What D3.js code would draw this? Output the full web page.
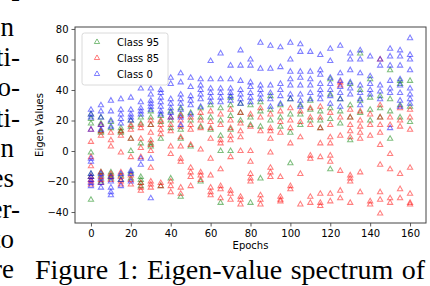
<!DOCTYPE html>
<html>
<head>
<meta charset="utf-8">
<script src="https://cdn.jsdelivr.net/npm/d3@7"></script>
<style>
  body { margin: 0; background: #fff; }
  svg { display: block; }
</style>
</head>
<body>
<svg id="chart" width="430" height="286"></svg>
<script>
var epochs = [0, 5, 10, 15, 20, 25, 30, 35, 40, 45, 50, 55, 60, 65, 70, 75, 80,
              85, 90, 95, 100, 105, 110, 115, 120, 125, 130, 135, 140, 145, 150, 155, 160];

// eigen values per epoch, one list per class
var class95 = [
  [24, 21, 18, -1, -15, -17, -32], [22, 18, 13, 12, -14, -16, -20], [19, 15, -14, -16, -18],
  [15, 13, 12, -16, -19], [20, 16, 8, 0, -14, -18], [22, 18, 5, -17, -19, -21, -23],
  [26, 22, 17, 5, 3], [23, 19, 8, -23], [26, 20, 15, -18], [28, 24, 14, 8, -30],
  [25, 20, 3], [28, 22, 16, -20], [30, 22, 14], [28, 20, 10, 0, -34], [35, 30, 23, 14, 0],
  [31, 25, 20], [30, 22, 17, -34], [32, 26, 16, -18], [36, 27, 20], [30, 22, 16],
  [34, 24, 12, -8], [30, 24, 17], [33, 27, 20], [26, 20, 15], [47, 37, 28, 21, -12],
  [34, 26, 18], [44, 30, 22, 7], [64, 40, 33, 25], [47, 35, 27, 20], [36, 28, 22],
  [53, 34, 26, 8], [46, 44, 30, 22], [46, 29, 19]
];
var class85 = [
  [14, 6, -4, -10, -17, -19, -20, -22], [17, 13, 10, -14, -17, -19, -21], [12, 7, 3, -15, -17, -19],
  [13, 10, -1, -14, -17, -20, -22], [17, 14, 8, -4, -16, -19, -22], [17, 15, 8, 2, -4, -21, -24, -26],
  [20, 17, 12, 7, 4, 0, -11, -20, -22, -24], [20, 17, 14, 11, -21, -23], [22, 17, 13, 3, -2, -20, -23, -27],
  [23, 20, 16, 9, 3, -5, -7, -24, -28], [22, 17, 14, 4, -11, -14, -17, -23], [25, 20, 15, 1, -14, -16, -19],
  [26, 19, 15, 8, -5, -16, -24, -27, -29], [24, 17, 7, 5, -12, -23, -25, -31], [27, 20, 15, 10, 7, -4, -26, -28, -32],
  [25, 18, 13, 9, 0, -30, -32, -35], [24, 16, 0, -7, -15, -18, -20], [28, 22, 13, -29, -32, -35],
  [24, 15, 13, 8, -1, -11, -14, -17], [26, 19, 12, -17, -30, -32, -33], [28, 20, 15, 5, -23, -25],
  [26, 19, 9, -15, -35], [28, 22, 17, -3, -5, -30, -34], [29, 22, 15, 5, -4, -28, -34, -36],
  [25, 17, 9, 5, -3, -7, -28, -33], [45, 43, 22, 10, -13, -26, -31], [27, 22, 17, 13, 9, -16, -18, -20, -34],
  [26, 20, 16, 12, 8, -14, -27], [24, 17, 10, -33, -35], [60, 30, 22, 17, 12, 4, -9, -27, -32, -41],
  [22, 17, -2, -12, -31, -34], [28, 20, 16, -15, -25, -31], [27, 22, 14, -11, -28, -34, -35]
];
var class0 = [
  [27, 24, 22, 14, -5, -7, -15, -17, -19, -21, -23], [30, 26, 22, 17, 14, -15, -18, -21, -24],
  [33, 26, 20, 16, -17, -20, -24, -27, -29], [34, 27, 24, 21, 18, -15, -19, -23],
  [35, 27, 24, 22, 20, -13, -15, -20], [41, 32, 28, 26, 24, -5, -9], [41, 37, 33, 31, 29, 27, -5, -31],
  [40, 38, 35, 32, 29, 26, 24], [48, 44, 34, 31, 28, 25, 22], [51, 45, 37, 34, 31, 27, 22, 17],
  [48, 42, 36, 33, 30, 24], [47, 43, 40, 37, 34, 29], [59, 47, 41, 38, 35, 32], [64, 47, 41, 38, 35, 32],
  [56, 47, 41, 38, 36, 33], [66, 56, 46, 40, 37, 34, 31], [60, 56, 45, 42, 38, 35, 32],
  [71, 54, 43, 40, 37, 34], [69, 54, 43, 38, 34, 29], [68, 55, 44, 40, 36, 31],
  [71, 60, 52, 47, 43, 37, 34], [70, 65, 52, 48, 43, 37, 33, 29], [65, 52, 47, 43, 38, 34],
  [63, 53, 50, 44, 40, 37, 34], [67, 59, 48, 44, 40, 36, 31], [69, 51, 46, 42, 38, 34, 29],
  [64, 60, 53, 45, 41, 37], [66, 60, 51, 43, 38, 34, 30], [62, 49, 44, 40, 37], [60, 56, 43, 39, 34],
  [67, 62, 56, 46, 41, 38, 15], [66, 62, 56, 47, 43, 38, 33, 29], [74, 63, 60, 53, 41, 37, 34, 31]
];

var classNames = ["Class 95", "Class 85", "Class 0"];
var classColors = ["#008000", "#ff0000", "#0000ff"];
var xTicks = [0, 20, 40, 60, 80, 100, 120, 140, 160];
var yTicks = [-40, -20, 0, 20, 40, 60, 80];

var sideText = ["-", "tion", "ti-", "co-", "ti-", "ion", "ces", "ter-", "to", "are"];
var caption = "Figure 1: Eigen-value spectrum of";

var svg = d3.select("#chart");
var font = "DejaVu Sans, sans-serif";

var plotLeft = 75, plotRight = 426, plotTop = 27, plotBottom = 223;

var xScale = d3.scaleLinear().domain([-8, 168]).range([plotLeft, plotRight]);
var yScale = d3.scaleLinear().domain([-47.2, 81.3]).range([plotBottom, plotTop]);

// text column of the page, cut at the left edge
svg.selectAll(".side")
    .data(sideText)
    .enter().append("text")
    .attr("x", function (d) { return d.slice(-1) === "-" ? 20 : 14; })
    .attr("y", function (d, i) { return i === 0 ? 5.5 : 5.5 + i * 30.3; })
    .attr("text-anchor", "end")
    .attr("font-family", "Liberation Serif, serif")
    .attr("font-size", 27)
    .text(function (d) { return d; });

// points
var tri = d3.symbol().type(d3.symbolTriangle).size(12);
var allClasses = [class95, class85, class0];

allClasses.forEach(function (cls, c) {
    var pts = [];
    cls.forEach(function (vals, i) {
        vals.forEach(function (v) { pts.push([epochs[i], v]); });
    });
    svg.append("g").selectAll("path")
        .data(pts)
        .enter().append("path")
        .attr("d", tri)
        .attr("transform", function (d) {
            return "translate(" + xScale(d[0]) + "," + yScale(d[1]) + ")";
        })
        .attr("fill", "none")
        .attr("stroke", classColors[c])
        .attr("stroke-opacity", 0.5)
        .attr("stroke-width", 1.05);
});

// axes
var xAxis = svg.append("g")
    .attr("transform", "translate(0," + plotBottom + ")")
    .call(d3.axisBottom(xScale).tickValues(xTicks).tickSize(3.5).tickPadding(3));
var yAxis = svg.append("g")
    .attr("transform", "translate(" + plotLeft + ",0)")
    .call(d3.axisLeft(yScale).tickValues(yTicks).tickSize(3.5).tickPadding(3)
        .tickFormat(function (d) { return d < 0 ? "\u2212" + Math.abs(d) : d; }));

[xAxis, yAxis].forEach(function (a) {
    a.select(".domain").remove();
    a.selectAll("line").attr("stroke", "#333").attr("stroke-width", 0.8);
    a.selectAll("text").attr("font-family", font).attr("font-size", 10).attr("fill", "#000");
});

// frame
svg.append("rect")
    .attr("x", plotLeft).attr("y", plotTop)
    .attr("width", plotRight - plotLeft).attr("height", plotBottom - plotTop)
    .attr("fill", "none")
    .attr("stroke", "#444")
    .attr("stroke-width", 1);

svg.append("text")
    .attr("x", (plotLeft + plotRight) / 2).attr("y", 249)
    .attr("text-anchor", "middle")
    .attr("font-family", font).attr("font-size", 10)
    .text("Epochs");

svg.append("text")
    .attr("transform", "translate(43," + (plotTop + plotBottom) / 2 + ") rotate(-90)")
    .attr("text-anchor", "middle")
    .attr("font-family", font).attr("font-size", 10)
    .text("Eigen Values");

// legend
var legend = svg.append("g");
legend.append("rect")
    .attr("x", 82).attr("y", 33)
    .attr("width", 86).attr("height", 52)
    .attr("rx", 2.5)
    .attr("fill", "#fff").attr("fill-opacity", 0.8)
    .attr("stroke", "#d0d0d0").attr("stroke-width", 0.8);

classNames.forEach(function (name, i) {
    var yy = 42 + i * 16;
    legend.append("path")
        .attr("d", tri)
        .attr("transform", "translate(97," + yy + ")")
        .attr("fill", "none")
        .attr("stroke", classColors[i])
        .attr("stroke-opacity", 0.5);
    legend.append("text")
        .attr("x", 117).attr("y", yy + 3.6)
        .attr("font-family", font).attr("font-size", 10)
        .text(name);
});

// caption
svg.append("text")
    .attr("x", 35).attr("y", 279)
    .attr("font-family", "Liberation Serif, serif")
    .attr("font-size", 28)
    .attr("word-spacing", 1.5)
    .text(caption);
</script>
</body>
</html>
